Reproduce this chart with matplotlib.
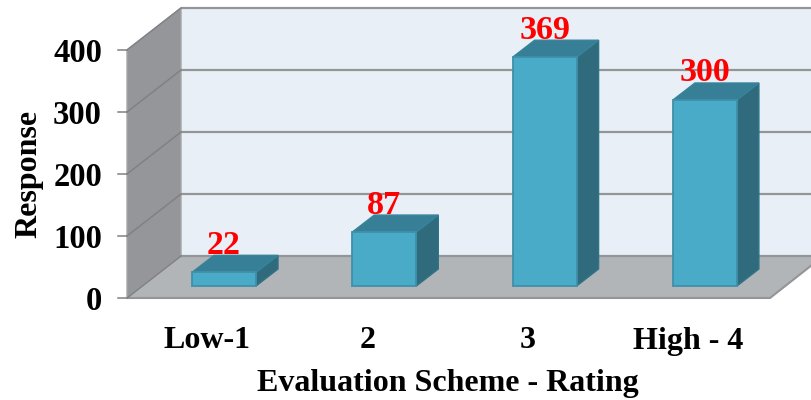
import matplotlib
matplotlib.use("Agg")
import matplotlib.pyplot as plt
from matplotlib.patches import Polygon

plt.rcParams['font.family'] = ['Liberation Serif', 'DejaVu Serif']

categories = ["Low-1", "2", "3", "High - 4"]
responses = [22, 87, 369, 300]
y_ticks = [0, 100, 200, 300, 400]
x_label = "Evaluation Scheme - Rating"
y_label = "Response"

# pixel layout of the 3d box
PX_X = 160.3
PX_Y = 0.62
DX = 54 / PX_X      # wall depth
DY = 42 / PX_Y
BAR_W = 64 / PX_X
BAR_DX = 22 / PX_X
BAR_DY = 17 / PX_Y
BAR_BASE = 12 / PX_Y
LEFT = (127 - 224) / PX_X
FLOOR_R = (770 - 224) / PX_X
RIGHT = (812 - 224) / PX_X

fig = plt.figure(figsize=(8.12, 4.0), dpi=100)
ax = fig.add_axes([0, 0, 1, 1])
ax.set_xlim(-224 / PX_X, (812 - 224) / PX_X)
ax.set_ylim((298 - 400) / PX_Y, 298 / PX_Y)
ax.axis("off")

top = y_ticks[-1]
line_c = "#949597"

# back wall, side wall and floor
ax.add_patch(Polygon([(LEFT + DX, DY), (RIGHT, DY), (RIGHT, top + DY), (LEFT + DX, top + DY)],
                     fc="#e8eff6", ec="none", zorder=1))
ax.add_patch(Polygon([(LEFT, 0), (LEFT + DX, DY), (LEFT + DX, top + DY), (LEFT, top)],
                     fc="#949699", ec="#a4a6a8", lw=1.0, zorder=2))
ax.add_patch(Polygon([(LEFT, 0), (LEFT + DX, DY), (RIGHT, DY), (RIGHT, DY - 9 / PX_Y), (FLOOR_R, 0)],
                     fc="#b1b5b8", ec="none", zorder=2))
ax.plot([LEFT, FLOOR_R, RIGHT], [0, 0, DY - 9 / PX_Y], color=line_c, lw=1.5, zorder=3,
        solid_capstyle="butt")

for t in y_ticks:
    ax.plot([LEFT + DX, RIGHT], [t + DY, t + DY], color=line_c, lw=1.6, zorder=3,
            solid_capstyle="butt")
    ax.plot([LEFT, LEFT + DX], [t, t + DY], color="#808183", lw=1.1, zorder=3)
    ax.plot([LEFT - 9 / PX_X, LEFT], [t, t], color="#808183", lw=1.1, zorder=3)
    ax.text((102 - 224) / PX_X, t - 4 / PX_Y, str(t), ha="right", va="center", fontsize=23.5,
            fontweight="bold", color="black")

# bars
for i, v in enumerate(responses):
    x0 = i - BAR_W / 2
    x1 = i + BAR_W / 2
    y0 = BAR_BASE
    y1 = BAR_BASE + v
    ax.add_patch(Polygon([(x1, y0), (x1 + BAR_DX, y0 + BAR_DY), (x1 + BAR_DX, y1 + BAR_DY), (x1, y1)],
                         fc="#2f6b7c", ec="#2f7488", lw=1, zorder=4))
    ax.add_patch(Polygon([(x0, y1), (x0 + BAR_DX, y1 + BAR_DY), (x1 + BAR_DX, y1 + BAR_DY), (x1, y1)],
                         fc="#377f96", ec="#37849b", lw=1, zorder=4))
    ax.add_patch(Polygon([(x0, y0), (x1, y0), (x1, y1), (x0, y1)],
                         fc="#49abc8", ec="#3f90a9", lw=1.3, zorder=5))
    ax.text(i, y1 + 27 / PX_Y, str(v), ha="center", va="center", fontsize=24.5,
            fontweight="bold", color="#ff0000", zorder=6)
    ax.text(i - 17 / PX_X, -43 / PX_Y, categories[i], ha="center", va="center", fontsize=23,
            fontweight="bold", color="black")

ax.text((448 - 224) / PX_X, -86 / PX_Y, x_label, ha="center", va="center", fontsize=23,
        fontweight="bold", color="black")
ax.text((29 - 224) / PX_X, (298 - 174) / PX_Y, y_label, ha="center", va="center", rotation=90,
        fontsize=23, fontweight="bold", color="black")

fig.savefig("out.png", dpi=100)
